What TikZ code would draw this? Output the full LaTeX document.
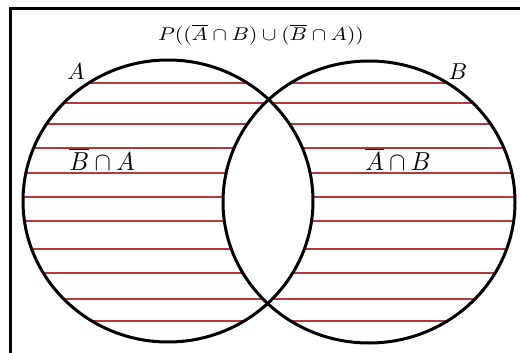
\documentclass[tikz,border=0pt]{standalone}
\usepackage{amsmath}
\definecolor{hatchred}{RGB}{178,58,58}
\begin{document}
\begin{tikzpicture}[x=1pt,y=-1pt,
  circ/.style={line width=3pt, black},
  hatch/.style={line width=1.1pt, hatchred},
  frame/.style={line width=3pt, black},
  lbl/.style={inner sep=0pt}]
\useasboundingbox (0,0) rectangle (520,353);
\clip (0,0) rectangle (520,353);
\draw[frame] (10,9) rectangle (560,390);
\begin{scope}[even odd rule]
  \clip (168,201) ellipse [x radius=145, y radius=141]
        (369,202) ellipse [x radius=146, y radius=141];
  \foreach \yy in {83,103,124,148,173,197,221,249,273,299,321}
    \draw[hatch] (0,\yy) -- (520,\yy);
\end{scope}
\draw[circ] (168,201) ellipse [x radius=145, y radius=141];
\draw[circ] (369,202) ellipse [x radius=146, y radius=141];
\node[lbl] (title) at (261,35)
  {\scalebox{2.15}[1.85]{$P((\overline{A}\cap B)\cup(\overline{B}\cap A))$}};
\node[lbl] (la) at (76,72) {\scalebox{2.3}{$A$}};
\node[lbl] (lb) at (458,72) {\scalebox{2.3}{$B$}};
\node[lbl] (bna) at (102,159) {\scalebox{2.45}[2.6]{$\overline{B}\cap A$}};
\node[lbl] (anb) at (398,159) {\scalebox{2.45}[2.6]{$\overline{A}\cap B$}};
\end{tikzpicture}
\end{document}
